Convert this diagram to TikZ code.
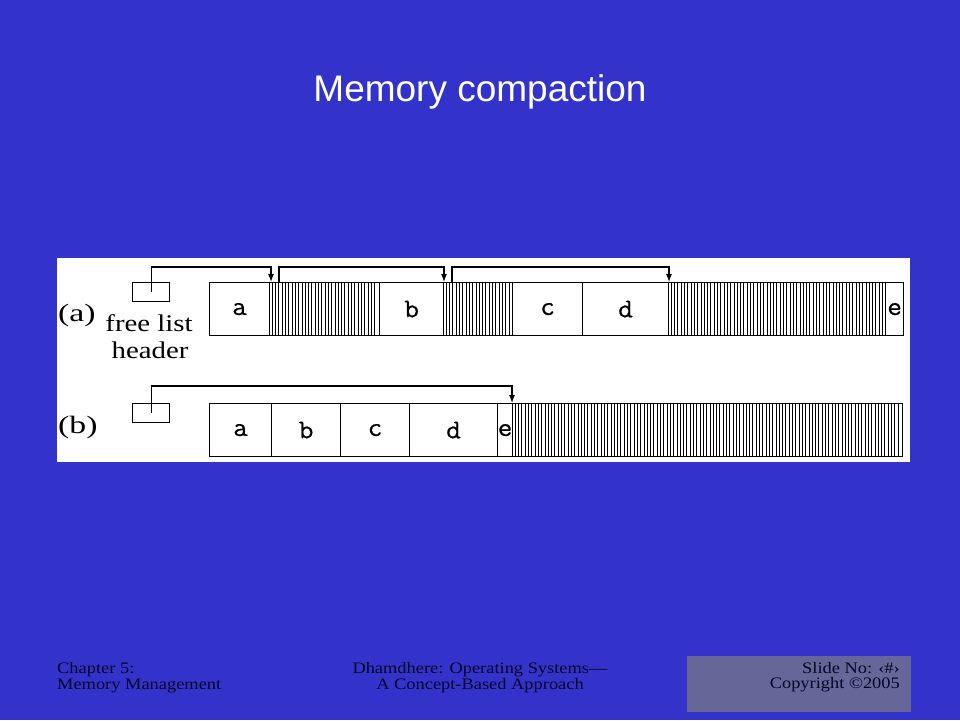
\documentclass[tikz,border=0pt]{standalone}
\usepackage{fontspec}
\setmainfont{Liberation Serif}
\newfontfamily\sansf{Liberation Sans}
\newfontfamily\monof[FakeStretch=1.05,FakeBold=0.5]{Latin Modern Mono}
\newfontfamily\labf[FakeStretch=1.2]{Liberation Serif}
\newfontfamily\parf[FakeStretch=1.35]{Liberation Serif}
\newfontfamily\footf[FakeStretch=1.15]{Liberation Serif}
\usetikzlibrary{arrows.meta}
\definecolor{slidebg}{RGB}{51,51,204}
\definecolor{footbox}{RGB}{102,102,153}
\definecolor{foottext}{RGB}{5,5,35}
\begin{document}
\begin{tikzpicture}[x=1pt,y=-1pt,
  cell/.style={draw=black, line width=1.2pt, inner sep=0pt, anchor=north west,
    font=\monof\fontsize{27}{27}\selectfont},
  hdr/.style={draw=black, line width=1.2pt, inner sep=0pt, anchor=north west,
    minimum width=37pt, minimum height=19pt},
  hatch/.style={line width=1pt, black},
  link/.style={line width=1.1pt, -{Latex[length=8pt,width=6pt]}},
  lab/.style={font=\labf\fontsize{24}{27}\selectfont, inner sep=0pt},
  plab/.style={font=\parf\fontsize{25}{27}\selectfont, inner sep=0pt},
  foot/.style={font=\footf\fontsize{16}{16}\selectfont, text=foottext, inner sep=0pt}]
% background
\fill[slidebg] (0,0) rectangle (960,720);
\useasboundingbox (0,0) rectangle (960,720);
% title
\node[font=\sansf\fontsize{37}{37}\selectfont, text=white, anchor=base, inner sep=0pt] (title) at (480,101) {Memory compaction};
% white panel
\fill[white] (57,258) rectangle (910,462);

% ---------- (a) ----------
\node[plab, anchor=base west] (la) at (58,321) {(a)};
\node[lab, anchor=base] (fl) at (149,331) {free list};
\node[lab, anchor=base] (hd) at (150,358) {header};
\node[hdr] (hda) at (132,282) {};

\node[cell, minimum width=60pt, minimum height=53pt] (a1) at (209,282) {a};
\node[cell, minimum width=110pt, minimum height=53pt] (h1) at (269,282) {};
\node[cell, minimum width=64pt, minimum height=53pt] (b1) at (379,282) {b};
\node[cell, minimum width=69pt, minimum height=53pt] (h2) at (443,282) {};
\node[cell, minimum width=70pt, minimum height=53pt] (c1) at (512,282) {c};
\node[cell, minimum width=86pt, minimum height=53pt] (d1) at (582,282) {d};
\node[cell, minimum width=217pt, minimum height=53pt] (h3) at (668,282) {};
\node[cell, minimum width=18pt, minimum height=53pt] (e1) at (885,282) {e};

\foreach \x in {272.3,275.6,...,377} \draw[hatch] (\x,282) -- (\x,335);
\foreach \x in {446.3,449.6,...,511} \draw[hatch] (\x,282) -- (\x,335);
\foreach \x in {671.3,674.6,...,884} \draw[hatch] (\x,282) -- (\x,335);

\coordinate (t1) at (271,282);
\coordinate (t1u) at (271,267);
\coordinate (s2) at (279,282);
\coordinate (t2) at (444,282);
\coordinate (t2u) at (444,267);
\coordinate (s3) at (452,282);
\coordinate (t3) at (669,282);
\coordinate (t3u) at (669,267);
\draw[link] (hda.center) |- (t1u) -- (t1);
\draw[link] (s2) |- (t2u) -- (t2);
\draw[link] (s3) |- (t3u) -- (t3);

% ---------- (b) ----------
\node[plab, anchor=base west] (lb) at (58,433) {(b)};
\node[hdr] (hdb) at (132,403) {};

\node[cell, minimum width=62pt, minimum height=53pt] (a2) at (209,403) {a};
\node[cell, minimum width=69pt, minimum height=53pt] (b2) at (271,403) {b};
\node[cell, minimum width=69pt, minimum height=53pt] (c2) at (340,403) {c};
\node[cell, minimum width=88pt, minimum height=53pt] (d2) at (409,403) {d};
\node[cell, minimum width=15pt, minimum height=53pt] (e2) at (497,403) {e};
\node[cell, minimum width=390pt, minimum height=53pt] (h4) at (512,403) {};
\foreach \x in {515.3,518.6,...,901} \draw[hatch] (\x,403) -- (\x,456);

\coordinate (t4) at (512,403);
\coordinate (t4u) at (512,386);
\draw[link] (hdb.center) |- (t4u) -- (t4);

% ---------- footer ----------
\node[foot, anchor=base west] (f1) at (57,673) {Chapter 5:};
\node[foot, anchor=base west] (f2) at (57,689) {Memory Management};
\node[foot, anchor=base] (f3) at (480,673) {Dhamdhere: Operating Systems—};
\node[foot, anchor=base] (f4) at (480,689) {A Concept-Based Approach};
\fill[footbox] (687,656) rectangle (911,712);
\node[foot, anchor=base east] (f5) at (900,673) {Slide No: \char"2039\#\char"203A};
\node[foot, anchor=base east] (f6) at (900,688) {Copyright \textcopyright2005};
\end{tikzpicture}
\end{document}
